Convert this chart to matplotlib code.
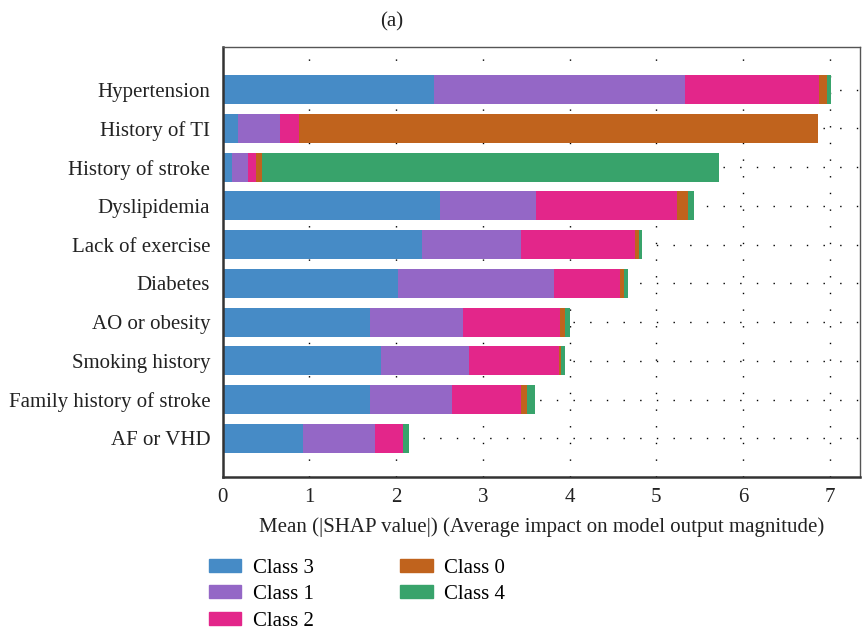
import numpy as np
import matplotlib.pyplot as plt
from matplotlib.patches import Patch

plt.rcParams["font.family"] = ["Liberation Serif", "DejaVu Serif"]

features = ["Hypertension", "History of TI", "History of stroke", "Dyslipidemia",
            "Lack of exercise", "Diabetes", "AO or obesity", "Smoking history",
            "Family history of stroke", "AF or VHD"]

# mean |SHAP| per class, one value per feature (same order as features)
class3 = [2.44, 0.18, 0.11, 2.51, 2.30, 2.02, 1.70, 1.82, 1.70, 0.92]
class1 = [2.89, 0.48, 0.18, 1.10, 1.14, 1.80, 1.07, 1.02, 0.94, 0.84]
class2 = [1.55, 0.22, 0.09, 1.63, 1.31, 0.76, 1.12, 1.04, 0.80, 0.32]
class0 = [0.09, 5.98, 0.07, 0.13, 0.05, 0.05, 0.06, 0.02, 0.07, 0.00]
class4 = [0.05, 0.00, 5.27, 0.06, 0.03, 0.04, 0.06, 0.05, 0.09, 0.07]

series = [("Class 3", class3, "#468bc6"),
          ("Class 1", class1, "#9467c6"),
          ("Class 2", class2, "#e3268a"),
          ("Class 0", class0, "#c0631d"),
          ("Class 4", class4, "#38a36b")]

FS = 15
TXT = "#222222"

fig = plt.figure(figsize=(8.64, 6.32), dpi=100)
ax = fig.add_axes([0.2578, 0.2453, 0.7376, 0.6803])

y = np.arange(len(features))[::-1]
left = np.zeros(len(features))
for name, vals, col in series:
    vals = np.array(vals)
    ax.barh(y, vals, left=left, height=0.75, color=col, zorder=2)
    left += vals

# dotted grid behind the bars
for xv in range(1, 8):
    ax.axvline(xv, color="black", lw=1.0, ls=(0, (1, 11)), zorder=1)
for yv in y:
    ax.axhline(yv, color="black", lw=1.0, ls=(0, (1, 11)), zorder=1)

ax.set_xlim(0, 7.35)
ax.set_ylim(-1.0, 10.1)
ax.set_yticks(y)
ax.set_yticklabels(features, fontsize=FS, color=TXT)
ax.set_xticks(range(8))
ax.set_xticklabels([str(i) for i in range(8)], fontsize=FS, color=TXT)
ax.tick_params(length=0, pad=9)
ax.tick_params(axis="x", pad=8)
ax.set_xlabel("Mean (|SHAP value|) (Average impact on model output magnitude)",
              fontsize=FS, color=TXT, labelpad=7)

for side in ["top", "right"]:
    ax.spines[side].set_color("#555555")
    ax.spines[side].set_linewidth(1.0)
for side in ["left", "bottom"]:
    ax.spines[side].set_color("#333333")
    ax.spines[side].set_linewidth(1.8)

fig.text(0.453, 0.966, "(a)", fontsize=FS, ha="center", va="center", color=TXT)

handles = [Patch(color=col, label=name) for name, vals, col in series]
fig.legend(handles=handles, loc="upper left", bbox_to_anchor=(0.242, 0.116),
           ncol=2, frameon=False, fontsize=FS, handlelength=1.55, handleheight=0.6,
           columnspacing=4.15, labelspacing=0.36, handletextpad=0.55,
           borderaxespad=0, borderpad=0)

fig.savefig("out.png", dpi=100)
